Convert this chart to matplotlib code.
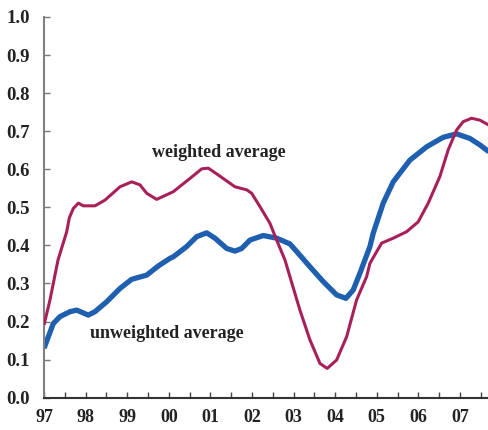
import matplotlib
matplotlib.use("Agg")
import matplotlib.pyplot as plt
from matplotlib.ticker import MultipleLocator

# years since 1997 (0 = 97, 10 = 07)
weighted_x = [0.0, 0.144, 0.337, 0.546, 0.608, 0.704, 0.825, 0.945, 1.226, 1.466, 1.827, 2.108,
              2.308, 2.469, 2.709, 3.029, 3.108, 3.510, 3.791, 3.950, 4.190, 4.591, 4.873, 4.993,
              5.192, 5.433, 5.594, 5.793, 5.913, 6.154, 6.394, 6.635, 6.810, 7.036, 7.276, 7.517,
              7.757, 7.837, 8.118, 8.397, 8.719, 8.998, 9.238, 9.519, 9.719, 9.921, 10.079, 10.281,
              10.481, 10.697]
weighted_y = [0.191, 0.257, 0.362, 0.436, 0.472, 0.497, 0.511, 0.504, 0.504, 0.519, 0.554, 0.567,
              0.559, 0.537, 0.521, 0.537, 0.541, 0.576, 0.601, 0.603, 0.585, 0.554, 0.546, 0.537,
              0.502, 0.458, 0.414, 0.362, 0.318, 0.230, 0.152, 0.090, 0.077, 0.099, 0.160, 0.257,
              0.318, 0.353, 0.406, 0.419, 0.436, 0.462, 0.511, 0.581, 0.651, 0.703, 0.725, 0.734,
              0.729, 0.716]

unweighted_x = [0.0, 0.224, 0.385, 0.625, 0.786, 1.065, 1.226, 1.507, 1.827, 2.108, 2.469, 2.748,
                3.029, 3.108, 3.430, 3.671, 3.911, 4.111, 4.392, 4.591, 4.752, 4.952, 5.272, 5.594,
                5.913, 6.075, 6.394, 6.714, 7.036, 7.260, 7.435, 7.596, 7.837, 7.916, 8.156, 8.397,
                8.798, 9.200, 9.599, 9.921, 10.240, 10.481, 10.697]
unweighted_y = [0.130, 0.195, 0.213, 0.226, 0.230, 0.217, 0.226, 0.252, 0.287, 0.311, 0.322, 0.346,
                0.366, 0.370, 0.397, 0.423, 0.433, 0.419, 0.392, 0.385, 0.392, 0.414, 0.426, 0.419,
                0.404, 0.384, 0.344, 0.305, 0.270, 0.261, 0.283, 0.327, 0.397, 0.432, 0.511, 0.567,
                0.624, 0.659, 0.684, 0.693, 0.681, 0.664, 0.646]

year_labels = ["97", "98", "99", "00", "01", "02", "03", "04", "05", "06", "07"]
y_ticks = [0.0, 0.1, 0.2, 0.3, 0.4, 0.5, 0.6, 0.7, 0.8, 0.9, 1.0]

plt.rcParams['font.family'] = ['Liberation Serif', 'DejaVu Serif']
plt.rcParams['font.weight'] = 'bold'

fig = plt.figure(figsize=(4.89, 4.30), dpi=100)
ax = fig.add_axes([0.090, 0.0751, 0.910, 0.8854])

ax.plot(weighted_x, weighted_y, color='#A8205A', lw=2.2, solid_capstyle='butt',
        solid_joinstyle='round', zorder=3)
ax.plot(unweighted_x, unweighted_y, color='#1F5FAF', lw=3.8, solid_capstyle='butt',
        solid_joinstyle='round', zorder=2)

ax.set_xlim(0, 10.7)
ax.set_ylim(0, 1.0)

ax.set_xticks(range(len(year_labels)))
ax.set_xticklabels(year_labels)
ax.xaxis.set_minor_locator(MultipleLocator(0.5))
ax.set_yticks(y_ticks)
ax.set_yticklabels([f"{v:.1f}" for v in y_ticks])

ax.tick_params(axis='x', which='both', direction='in', length=4, width=1, color='#444444',
               labelsize=13, pad=8)
ax.tick_params(axis='y', which='both', direction='in', length=4, width=1, color='#777777',
               labelsize=13.5, pad=10)
for lab in ax.get_xticklabels() + ax.get_yticklabels():
    lab.set_fontweight('bold')
    lab.set_color('#222222')

for s in ['top', 'right']:
    ax.spines[s].set_visible(False)
ax.spines['left'].set_color('#808080')
ax.spines['left'].set_linewidth(1.5)
ax.spines['bottom'].set_color('#333333')
ax.spines['bottom'].set_linewidth(1.5)

ax.text(4.195, 0.645, "weighted average", ha='center', va='center', fontsize=13,
        fontweight='bold', color='#222222')
ax.text(2.945, 0.169, "unweighted average", ha='center', va='center', fontsize=13,
        fontweight='bold', color='#222222')

fig.savefig("out.png", dpi=100)
